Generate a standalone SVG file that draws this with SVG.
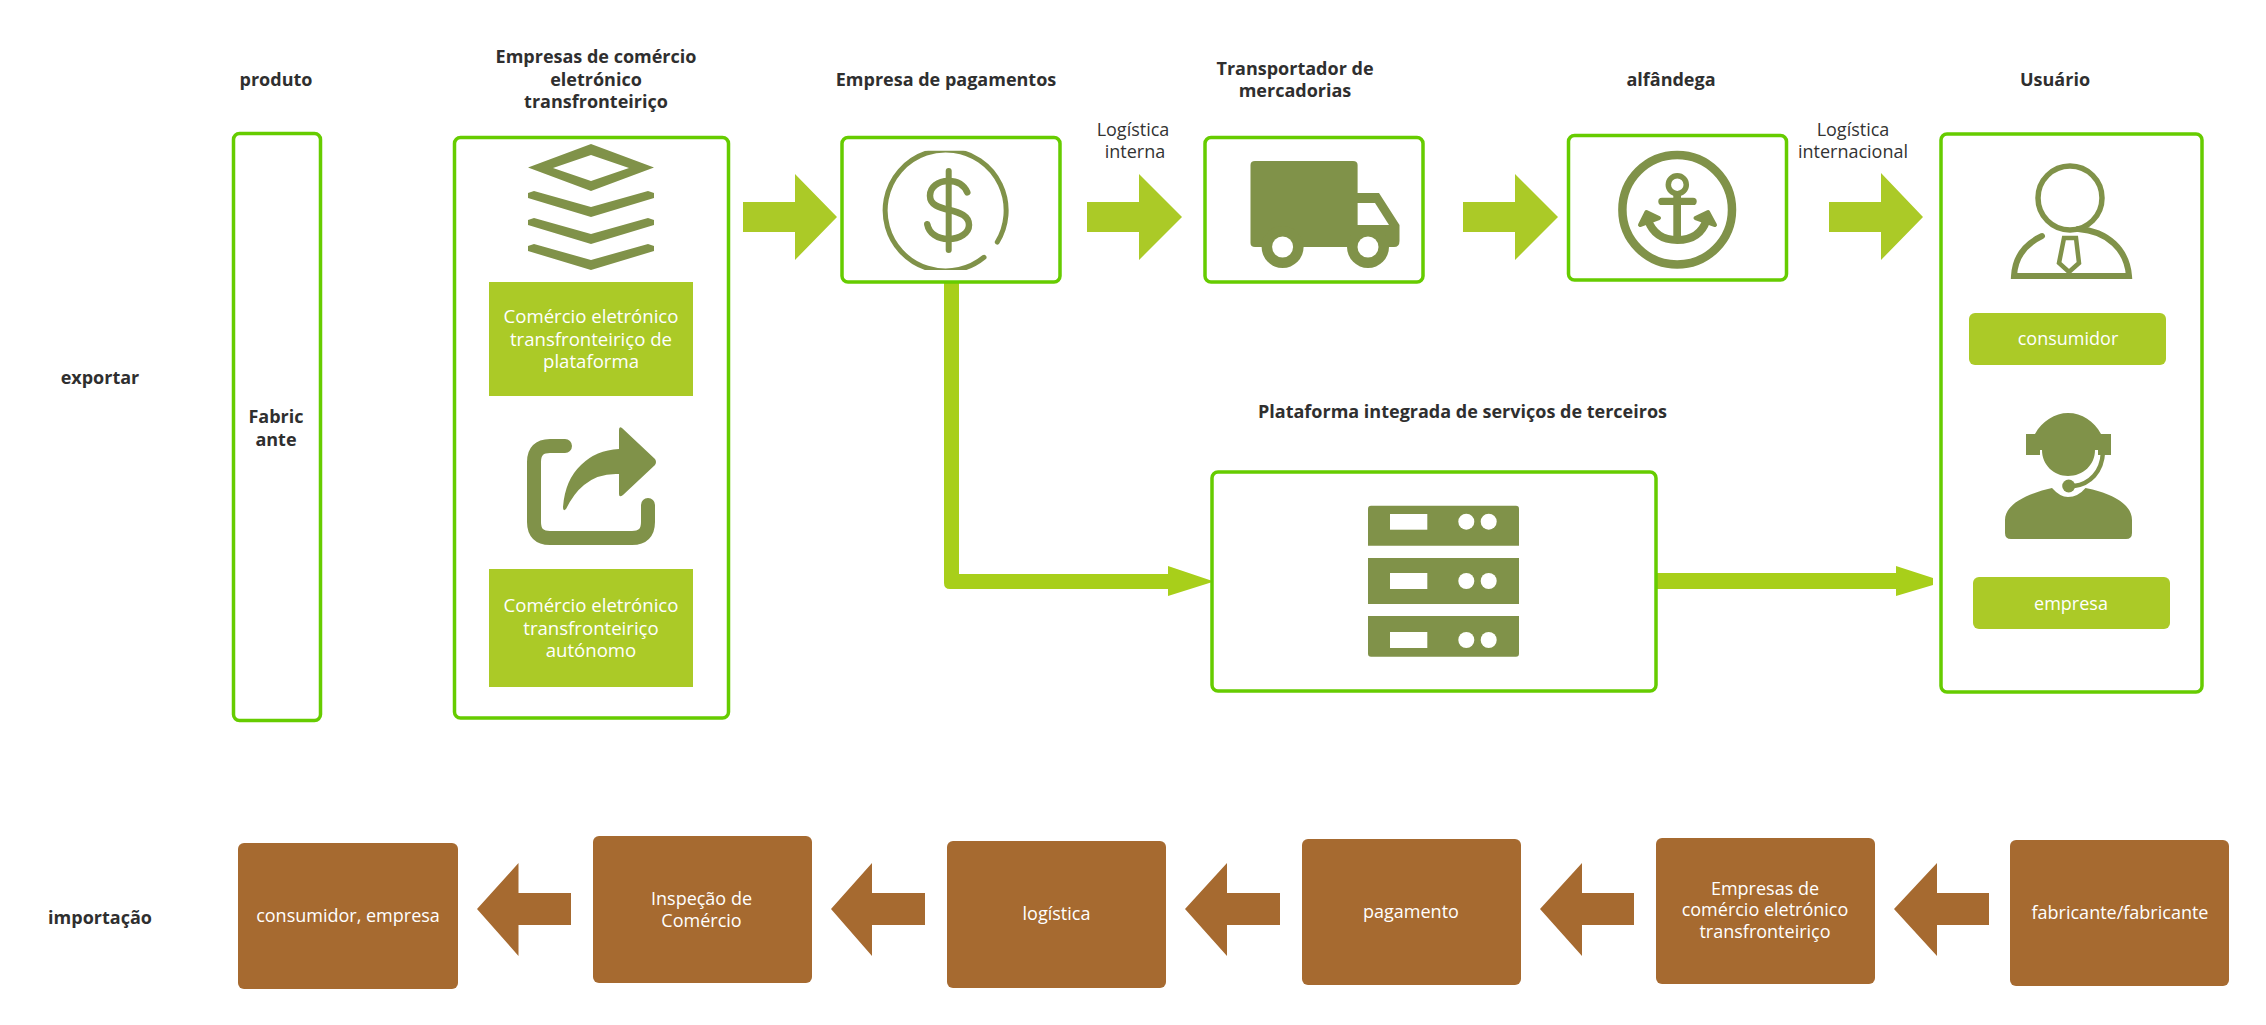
<svg xmlns="http://www.w3.org/2000/svg" width="2266" height="1025" viewBox="0 0 2266 1025">
<style>
text{font-family:"Open Sans","Noto Sans","Liberation Sans",sans-serif;text-anchor:middle}
.h{font-size:18px;font-weight:700;fill:#2f2f2f}
.l{font-size:18px;fill:#333}
.w{font-size:18px;fill:#fff}
.w2{font-size:18.600px;fill:#fff}
.box{fill:#fff;stroke:#66cc00;stroke-width:3.500}
.pill{fill:#abca27}
.icon{fill:#809249}
.line{fill:none;stroke:#809249}
.arr{fill:#abca27}
.conn{fill:#a8cf1a}
.br{fill:#a66a30}
</style>
<defs><clipPath id="coin"><rect x="870" y="150.700" width="160" height="119.300"/></clipPath></defs>
<rect width="2266" height="1025" fill="#fff"/>
<g id="labels">
<text class="h" x="276" y="86">produto</text>
<text class="h" x="596" y="63">Empresas de comércio</text>
<text class="h" x="596" y="86">eletrónico</text>
<text class="h" x="596" y="108">transfronteiriço</text>
<text class="h" x="946" y="86">Empresa de pagamentos</text>
<text class="h" x="1295" y="75">Transportador de</text>
<text class="h" x="1295" y="97">mercadorias</text>
<text class="h" x="1671" y="86">alfândega</text>
<text class="h" x="2055" y="86">Usuário</text>
<text class="h" x="100" y="384">exportar</text>
<text class="h" x="100" y="924">importação</text>
<text class="h" x="1462.500" y="418">Plataforma integrada de serviços de terceiros</text>
<text class="l" x="1133" y="136">Logística</text>
<text class="l" x="1135" y="158">interna</text>
<text class="l" x="1853" y="136">Logística</text>
<text class="l" x="1853" y="158">internacional</text>
</g>
<g id="connectors">
<path class="arr" d="M743 202H795V174L837 217L795 260V232H743Z"/>
<path class="arr" d="M1087 202H1139V174L1182 217L1139 260V232H1087Z"/>
<path class="arr" d="M1463 202H1515V174L1558 217L1515 260V232H1463Z"/>
<path class="arr" d="M1829 202H1881V173L1923 217L1881 260V232H1829Z"/>
<path class="conn" d="M944 283H959V574H1168V566L1214 581.500L1168 596V589H950Q944 589 944 583Z"/>
<path class="conn" d="M1657 573H1896V566L1933 578V585L1896 596V589H1657Z"/>
<path class="br" d="M571 893H518.500V863L477 909L518.500 956V925H571Z"/>
<path class="br" d="M925 893H872V863L831 909L872 956V925H925Z"/>
<path class="br" d="M1280 893H1227V863L1185 909L1227 956V925H1280Z"/>
<path class="br" d="M1634 893H1582V863L1540 909L1582 956V925H1634Z"/>
<path class="br" d="M1989 893H1937V863L1894 909L1937 956V925H1989Z"/>
</g>
<g id="node-produto">
<rect class="box" x="233.500" y="133.500" width="87" height="587" rx="6"/>
<text class="h" x="276" y="423">Fabric</text>
<text class="h" x="276" y="446">ante</text>
</g>
<g id="node-empresas">
<rect class="box" x="454.500" y="137.500" width="274" height="580.500" rx="6"/>
<path class="icon" fill-rule="evenodd" d="M591 144L654 167.500L591 191L528 167.500ZM591 155L553 168L591 181L629 168Z"/>
<path class="icon" d="M528 193L534 191L591 207L648 191L654 193V198L591 217L528 198Z"/>
<path class="icon" d="M528 220L534 218L591 234L648 218L654 220V225L591 244L528 225Z"/>
<path class="icon" d="M528 246L534 244L591 260L648 244L654 246V251L591 270L528 251Z"/>
<rect class="pill" x="489" y="282" width="204" height="114"/>
<text class="w2" x="591" y="323">Comércio eletrónico</text>
<text class="w2" x="591" y="346">transfronteiriço de</text>
<text class="w2" x="591" y="368">plataforma</text>
<path class="line" stroke-width="14" stroke-linecap="round" d="M565 446H550Q534 446 534 462V522Q534 538 550 538H632Q648 538 648 522V505"/>
<path class="icon" d="M619 430Q619 426 622 428L655 459Q657 462 655 465L623 495Q619 498 619 494V474Q598 473 584 485Q574 493 566 509Q563 512 563 507Q565 480 581 465Q596 450 619 449Z"/>
<rect class="pill" x="489" y="569" width="204" height="118"/>
<text class="w2" x="591" y="612">Comércio eletrónico</text>
<text class="w2" x="591" y="635">transfronteiriço</text>
<text class="w2" x="591" y="657">autónomo</text>
</g>
<g id="node-pagamentos">
<rect class="box" x="842" y="137.500" width="218" height="144.500" rx="6"/>
<path class="line" clip-path="url(#coin)" stroke-width="5" stroke-linecap="round" d="M984 257.300A60.500 60.500 0 1 1 997.300 242"/>
<path class="line" stroke-width="6" stroke-linecap="round" d="M948.700 171V250"/>
<path class="line" stroke-width="6.500" stroke-linecap="round" d="M967.300 192.300C964 185 957 181 948.300 181C938 181 930 187 930 195.700C930 205 939 207.500 949.300 210C960 212.500 969 216 969 225C969 233 960 239 948.300 239C937 239 929 233 927.300 224.300"/>
</g>
<g id="node-transportador">
<rect class="box" x="1205" y="137.500" width="218" height="144.500" rx="6"/>
<path class="icon" d="M1255 161H1353Q1357.600 161 1357.600 165V193H1379L1399.500 225V241Q1399.500 247 1394 247H1255Q1250.500 247 1250.500 243V165Q1250.500 161 1255 161Z"/>
<circle class="icon" cx="1282.600" cy="247" r="21"/>
<circle class="icon" cx="1368" cy="247" r="21"/>
<circle cx="1282.600" cy="247" r="10.500" fill="#fff"/>
<circle cx="1368" cy="247" r="10.500" fill="#fff"/>
<path fill="#fff" d="M1357.600 203H1375L1389 225H1357.600Z"/>
</g>
<g id="node-alfandega">
<rect class="box" x="1568.500" y="135.500" width="218" height="144.500" rx="6"/>
<circle class="line" cx="1677.200" cy="209.700" r="54.800" stroke-width="8.500"/>
<circle class="line" cx="1677.300" cy="184.700" r="9" stroke-width="5.500"/>
<rect class="icon" x="1658.300" y="197.700" width="38.400" height="7.300" rx="3.600"/>
<rect class="icon" x="1673.300" y="195" width="7.700" height="45"/>
<path class="line" stroke-width="8" d="M1648 220Q1655 240 1677.300 240Q1700 240 1706.500 220"/>
<path class="icon" stroke="#809249" stroke-width="4" stroke-linejoin="round" d="M1646.500 212L1640 225L1659 218Z"/>
<path class="icon" stroke="#809249" stroke-width="4" stroke-linejoin="round" d="M1708 212L1715 225L1695.500 218Z"/>
</g>
<g id="node-usuario">
<rect class="box" x="1941" y="134" width="261" height="558" rx="6"/>
<circle class="line" cx="2070" cy="198" r="32" stroke-width="5.500"/>
<path class="line" stroke-width="6" stroke-linecap="round" d="M2042 236C2025 244 2015 258 2014 276H2129C2127 250 2108 231 2078 229"/>
<path class="line" stroke-width="4.500" d="M2064 238H2076L2079 263L2069 272L2059 263Z"/>
<rect class="pill" x="1969" y="313" width="197" height="52" rx="6"/>
<text class="w" x="2068" y="345">consumidor</text>
<path class="icon" d="M2026 434H2035C2042 421 2055 413 2068 413C2082 413 2094 421 2101 434H2111V455H2098V450H2095C2095 465 2083 476 2068 476C2054 476 2042 465 2042 450H2040V455H2026Z"/>
<path class="line" stroke-width="4.500" d="M2103 452C2102 472 2090 484 2074 486"/>
<circle class="icon" cx="2068.700" cy="486" r="6.500"/>
<path class="icon" d="M2052 488Q2060 497 2068 497Q2078 497 2085.500 488C2110 493 2132 503 2132 520V533Q2132 539 2126 539H2011Q2005 539 2005 533V520C2005 503 2030 493 2052 488Z"/>
<rect class="pill" x="1973" y="577" width="197" height="52" rx="6"/>
<text class="w" x="2071" y="610">empresa</text>
</g>
<g id="node-plataforma">
<rect class="box" x="1212" y="472" width="444" height="219" rx="6"/>
<path class="icon" d="M1371 505.700H1516Q1519 505.700 1519 509V545.700H1368V509Q1368 505.700 1371 505.700Z"/>
<rect class="icon" x="1368" y="558" width="151" height="46"/>
<path class="icon" d="M1368 616H1519V653.500Q1519 656.700 1516 656.700H1371Q1368 656.700 1368 653.500Z"/>
<g fill="#fff">
<rect x="1390" y="514" width="37.300" height="15.700"/>
<rect x="1390" y="573" width="37.300" height="16"/>
<rect x="1390" y="632" width="37.300" height="16"/>
<circle cx="1466.300" cy="521.700" r="8"/><circle cx="1488.700" cy="521.700" r="8"/>
<circle cx="1466.300" cy="581" r="8"/><circle cx="1488.700" cy="581" r="8"/>
<circle cx="1466.300" cy="640" r="8"/><circle cx="1488.700" cy="640" r="8"/>
</g>
</g>
<g id="node-imp1"><rect class="br" x="238" y="843" width="220" height="146" rx="6"/><text class="w" x="348" y="922">consumidor, empresa</text></g>
<g id="node-imp2"><rect class="br" x="593" y="836" width="219" height="147" rx="6"/><text class="w" x="701.500" y="905">Inspeção de</text><text class="w" x="701.500" y="927">Comércio</text></g>
<g id="node-imp3"><rect class="br" x="947" y="841" width="219" height="147" rx="6"/><text class="w" x="1056.500" y="920">logística</text></g>
<g id="node-imp4"><rect class="br" x="1302" y="839" width="219" height="146" rx="6"/><text class="w" x="1411" y="918">pagamento</text></g>
<g id="node-imp5"><rect class="br" x="1656" y="838" width="219" height="146" rx="6"/><text class="w" x="1765" y="895">Empresas de</text><text class="w" x="1765" y="916">comércio eletrónico</text><text class="w" x="1765" y="938">transfronteiriço</text></g>
<g id="node-imp6"><rect class="br" x="2010" y="840" width="219" height="146" rx="6"/><text class="w" x="2120" y="919">fabricante/fabricante</text></g>
</svg>
